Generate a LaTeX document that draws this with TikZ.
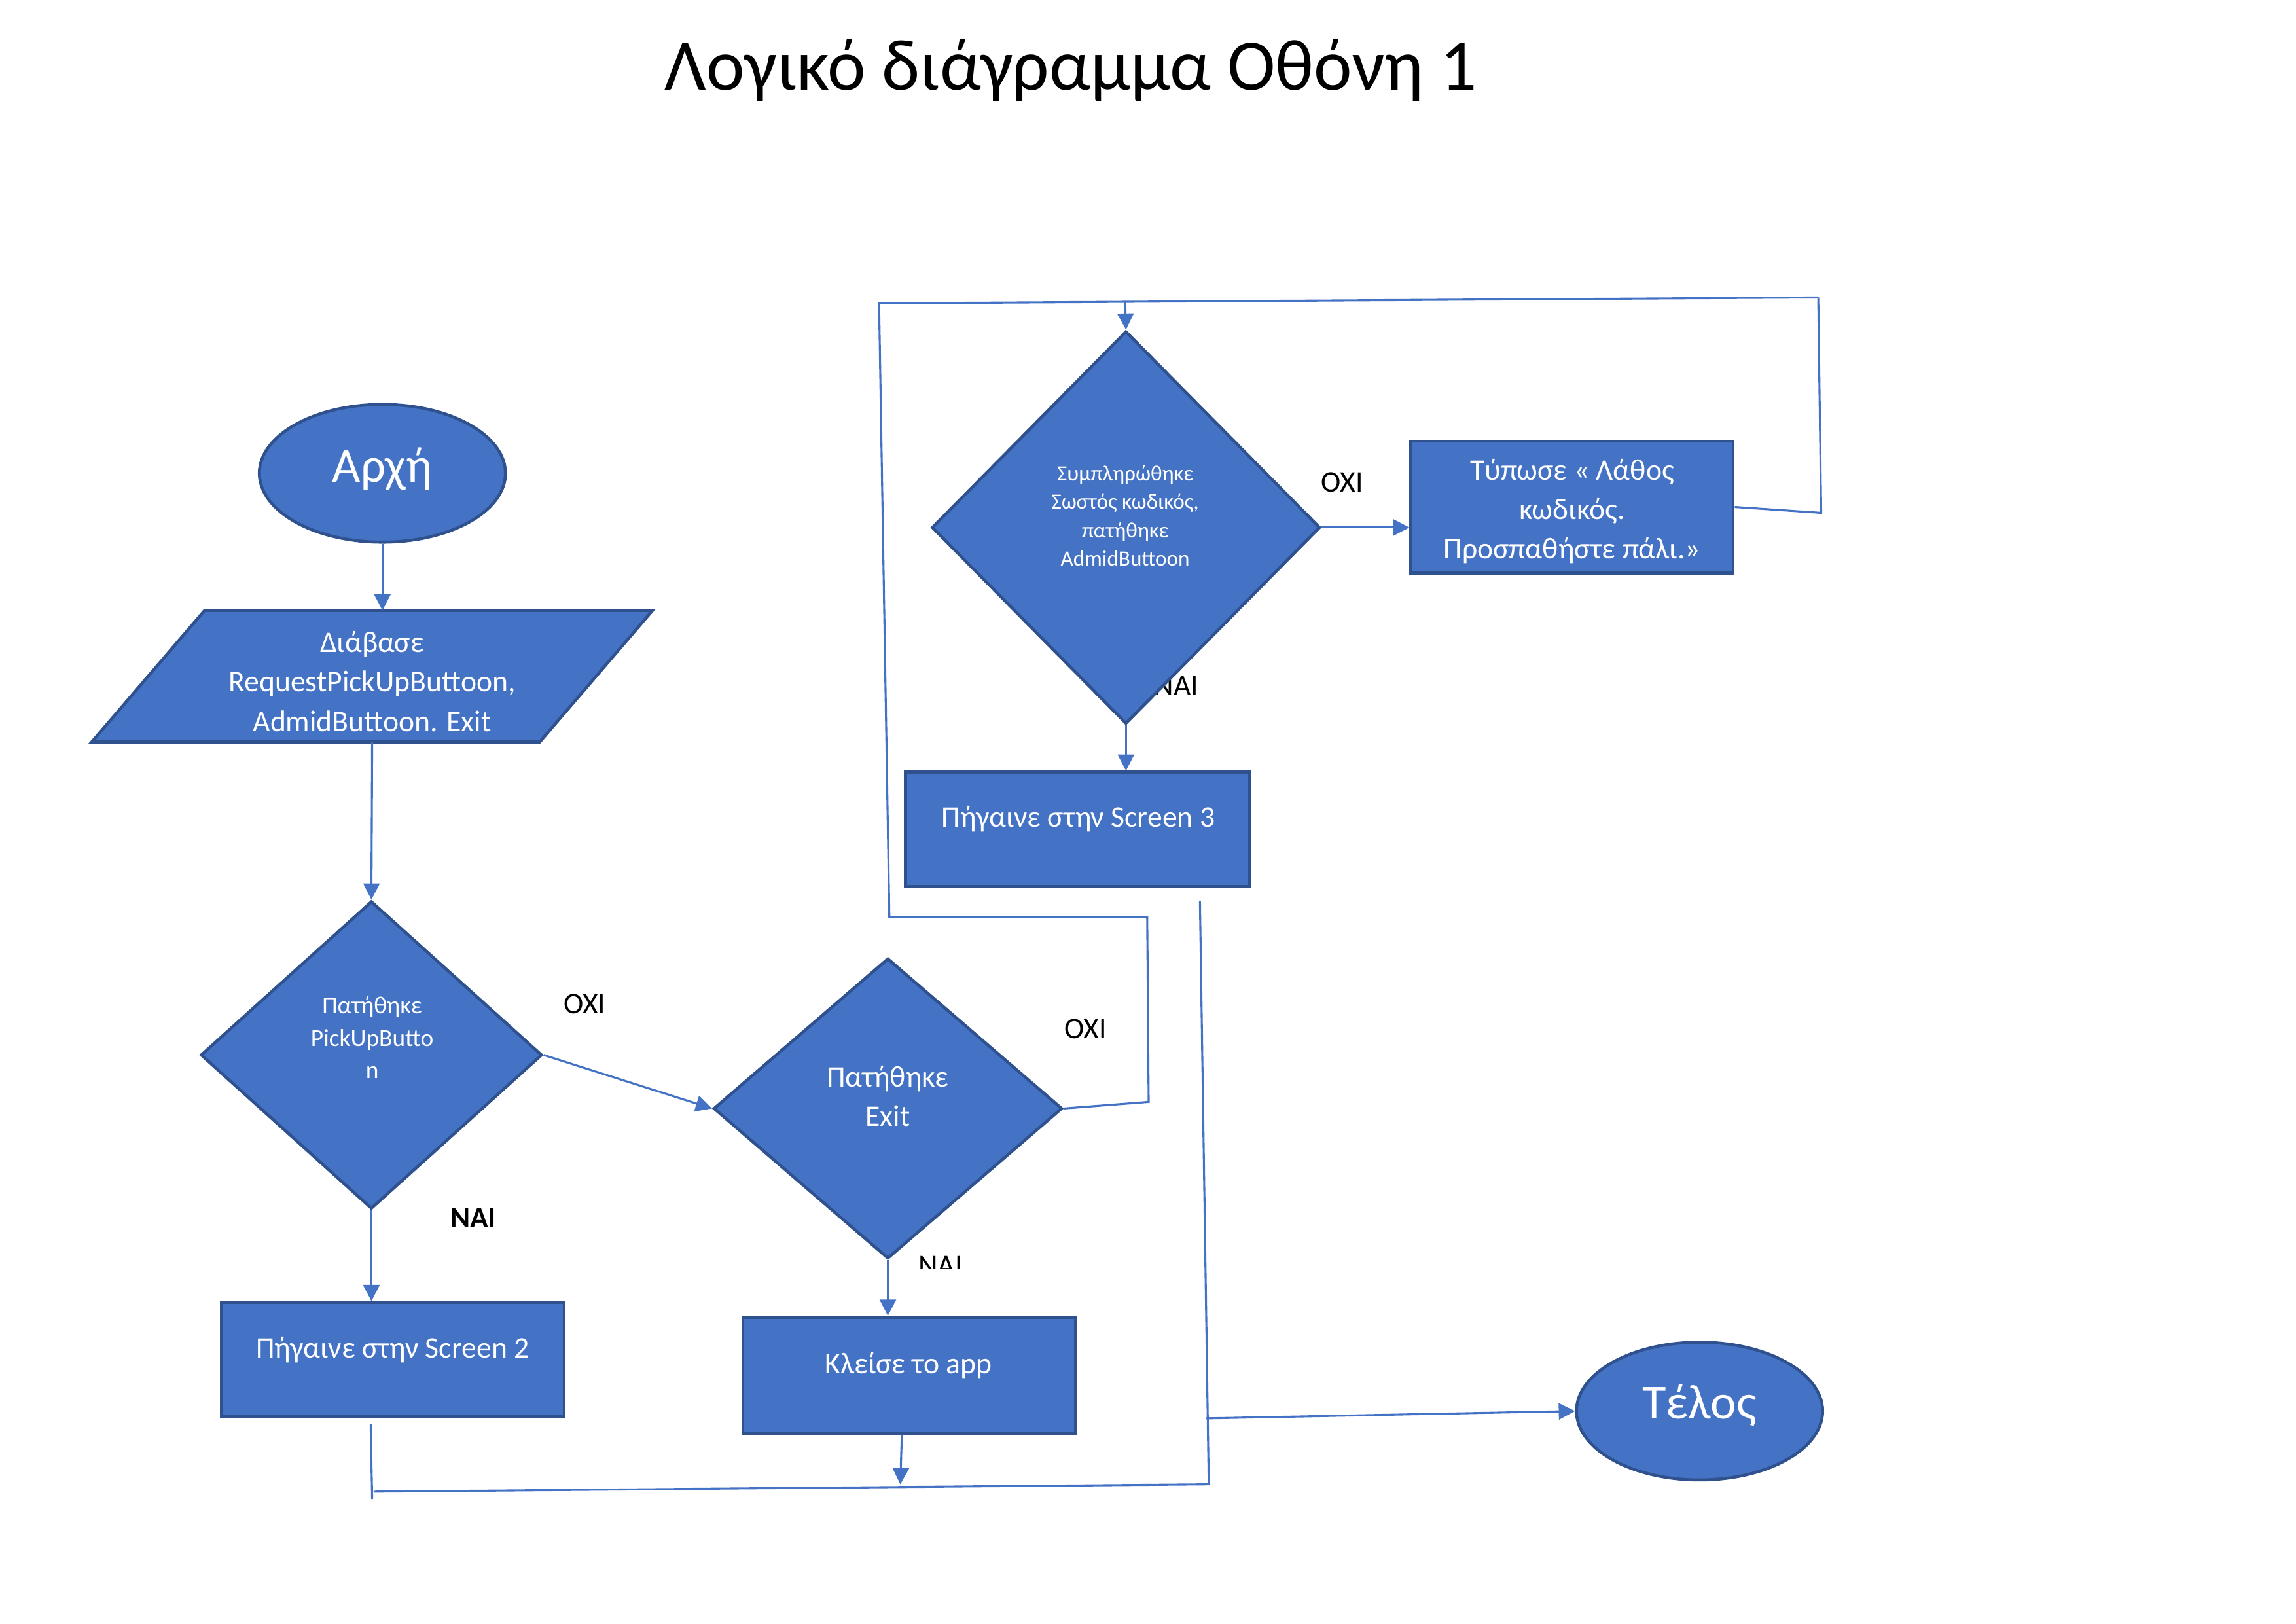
\documentclass[tikz,border=0pt]{standalone}
\usepackage{fontspec}
\setmainfont{Carlito}
\usetikzlibrary{shapes.geometric,arrows.meta,calc}
\definecolor{ofblue}{HTML}{4472C4}
\definecolor{ofedge}{HTML}{2F528F}
\def\dpx{0.18952mm}
\tikzset{
  x=0.18952mm, y=-0.18952mm,
  shp/.style={draw=ofedge, fill=ofblue, line width=1.1pt, inner sep=0pt},
  boxshape/.style={shp, rectangle},
  ovalshape/.style={shp, ellipse},
  decshape/.style={shp, diamond},
  wtext/.style={text=white, align=center, inner sep=0pt},
  lbl/.style={text=black, inner sep=0pt, font=\fontsize{11}{13}\selectfont},
  conn/.style={draw=ofblue, line width=0.75pt},
  arr/.style={conn, -{Triangle[length=2.1mm,width=2.1mm]}},
}
\begin{document}
\begin{tikzpicture}
\useasboundingbox (0,0) rectangle (1567.1,1108.1);

% title
\node[inner sep=0pt, font=\fontsize{26.7}{32}\selectfont] (title) at (731,48) {Λογικό διάγραμμα Οθόνη 1};

% labels drawn first (one is partly hidden by a diamond)
\node[lbl] (l-nai3) at (803,468) {ΝΑΙ};

% shapes
\node[ovalshape, minimum width=168*\dpx, minimum height=94*\dpx] (start) at (261,323) {};
\node[inner sep=0pt, minimum width=305*\dpx, minimum height=89*\dpx] (read) at (254,461.5) {};
\draw[shp] ($(read.north west)+(38.5,0)$) -- ($(read.north east)+(38.5,0)$) -- ($(read.south east)+(-38.5,0)$) -- ($(read.south west)+(-38.5,0)$) -- cycle;
\node[decshape, minimum width=233*\dpx, minimum height=210*\dpx] (d1) at (253.5,720) {};
\node[boxshape, minimum width=234*\dpx, minimum height=78*\dpx] (s2) at (268,928) {};
\node[decshape, minimum width=238*\dpx, minimum height=205*\dpx] (d2) at (606,756.5) {};
\node[boxshape, minimum width=227*\dpx, minimum height=79*\dpx] (close) at (620.5,938.5) {};
\node[decshape, minimum width=265*\dpx, minimum height=268*\dpx] (d3) at (768.5,360) {};
\node[boxshape, minimum width=220*\dpx, minimum height=90*\dpx] (err) at (1073,346) {};
\node[boxshape, minimum width=235*\dpx, minimum height=78*\dpx] (s3) at (735.5,566) {};
\node[ovalshape, minimum width=168*\dpx, minimum height=94*\dpx] (end) at (1160,963) {};

% texts in shapes
\node[wtext, font=\fontsize{18}{22}\selectfont] (t-start) at (261,320) {Αρχή};
\node[wtext, font=\fontsize{11}{14.5}\selectfont] (t-read) at (254,465) {Διάβασε\\RequestPickUpButtoon,\\AdmidButtoon. Exit};
\node[wtext, font=\fontsize{9}{11.9}\selectfont] (t-d1) at (254,708) {Πατήθηκε\\PickUpButto\\n};
\node[wtext, font=\fontsize{11}{14.5}\selectfont] (t-s2) at (268,921) {Πήγαινε στην Screen 2};
\node[wtext, font=\fontsize{11}{14.5}\selectfont] (t-d2) at (606,748) {Πατήθηκε\\Exit};
\node[wtext, font=\fontsize{11}{14.5}\selectfont] (t-close) at (620,932) {Κλείσε το app};
\node[wtext, font=\fontsize{8}{10.4}\selectfont] (t-d3) at (768,352) {Συμπληρώθηκε\\Σωστός κωδικός,\\πατήθηκε\\AdmidButtoon};
\node[wtext, font=\fontsize{11}{14.5}\selectfont] (t-err) at (1073,349) {Τύπωσε « Λάθος\\κωδικός.\\Προσπαθήστε πάλι.»};
\node[wtext, font=\fontsize{11}{14.5}\selectfont] (t-s3) at (736,559) {Πήγαινε στην Screen 3};
\node[wtext, font=\fontsize{18}{22}\selectfont] (t-end) at (1160,959) {Τέλος};

% labels
\node[lbl] (l-oxi1) at (399,685) {ΟΧΙ};
\node[lbl, font=\bfseries\fontsize{11}{13}\selectfont] (l-nai1) at (323,831) {ΝΑΙ};
\node[lbl] (l-oxi2) at (741,702) {ΟΧΙ};
\begin{scope}
\clip (600,850) rectangle (680,866);
\node[lbl] (l-nai2) at (642,864) {ΝΑΙ};
\end{scope}
\node[lbl] (l-oxi3) at (916,329) {ΟΧΙ};

% connector coordinates
\coordinate (c-a) at (784,752);
\coordinate (c-b) at (783,626);
\coordinate (c-c) at (607,626);
\coordinate (c-d) at (600,207);
\coordinate (c-e) at (1241,203);
\coordinate (c-f) at (1243,350);
\coordinate (c-g) at (768,206);
\coordinate (s3out) at (819,615);
\coordinate (br) at (825,1013);
\coordinate (bl) at (255,1018);
\coordinate (s2a) at (253,972);
\coordinate (s2b) at (254,1023);
\coordinate (j-end) at (823,968);

% connectors
\draw[arr] (start.south) -- (start.south |- read.north);
\draw[arr] (read.south) -- (d1.north);
\draw[arr] (d1.south) -- (d1.south |- s2.north);
\draw[arr] (d1.east) -- (d2.west);
\draw[arr] (d2.south) -- (d2.south |- close.north);
\draw[conn] (d2.east) -- (c-a) -- (c-b) -- (c-c) -- (c-d) -- (c-e);
\draw[conn] (err.east) -- (c-f) -- (c-e);
\draw[arr] (c-g) -- (d3.north);
\draw[arr] (d3.east) -- (d3.east -| err.west);
\draw[arr] (d3.south) -- (d3.south |- s3.north);
\draw[conn] (s3out) -- (br) -- (bl);
\draw[conn] (s2a) -- (s2b);
\draw[arr] ($(close.south)+(-5,0)$) -- ($(close.south |- br)+(-6,0)$);
\draw[arr] (j-end) -- (end.west);
\end{tikzpicture}
\end{document}
